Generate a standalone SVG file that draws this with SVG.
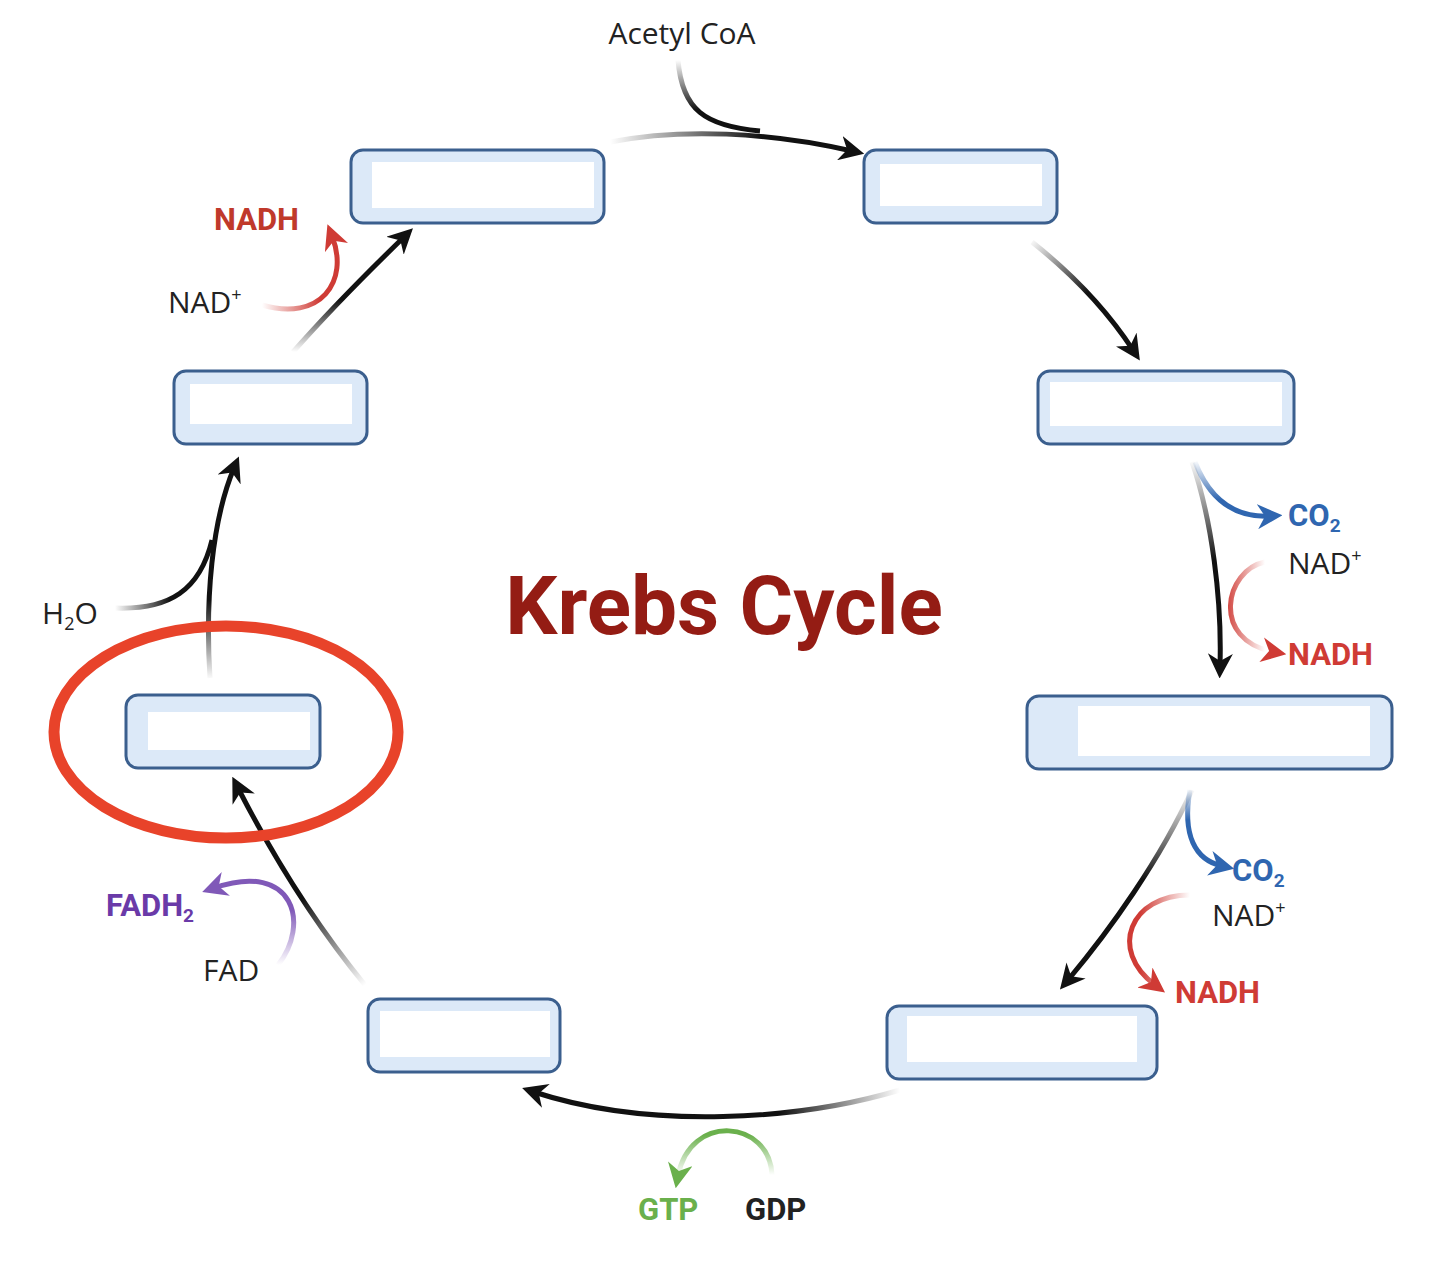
<svg xmlns="http://www.w3.org/2000/svg" width="1446" height="1262" viewBox="0 0 1446 1262">
<style>
.box{fill:#dce9f8;stroke:#3b5f8e;stroke-width:3}
.in{fill:#fff}
.c{fill:none;stroke-width:5}
.t{font-family:"Open Sans","Liberation Sans",sans-serif;font-size:30px;fill:#222}
.b{font-family:"Roboto","Liberation Sans",sans-serif;font-weight:bold;font-size:31px}
</style>
<defs>
<marker id="mk" viewBox="0 0 10 10" refX="5" refY="5" markerWidth="5" markerHeight="5" orient="auto" markerUnits="strokeWidth"><path d="M0,0L10,5L0,10L3,5z" fill="#111"/></marker>
<marker id="mb" viewBox="0 0 10 10" refX="5" refY="5" markerWidth="5" markerHeight="5" orient="auto" markerUnits="strokeWidth"><path d="M0,0L10,5L0,10L3,5z" fill="#2f66b0"/></marker>
<marker id="mr" viewBox="0 0 10 10" refX="5" refY="5" markerWidth="5" markerHeight="5" orient="auto" markerUnits="strokeWidth"><path d="M0,0L10,5L0,10L3,5z" fill="#cf3b35"/></marker>
<marker id="mg" viewBox="0 0 10 10" refX="5" refY="5" markerWidth="5" markerHeight="5" orient="auto" markerUnits="strokeWidth"><path d="M0,0L10,5L0,10L3,5z" fill="#6ab04c"/></marker>
<marker id="mp" viewBox="0 0 10 10" refX="5" refY="5" markerWidth="5" markerHeight="5" orient="auto" markerUnits="strokeWidth"><path d="M0,0L10,5L0,10L3,5z" fill="#8059b8"/></marker>
<linearGradient id="g1" gradientUnits="userSpaceOnUse" x1="610" y1="140" x2="760" y2="135"><stop offset="0" stop-color="#111" stop-opacity="0"/><stop offset="1" stop-color="#111"/></linearGradient>
<linearGradient id="g2" gradientUnits="userSpaceOnUse" x1="1030" y1="240" x2="1090" y2="290"><stop offset="0" stop-color="#111" stop-opacity="0"/><stop offset="1" stop-color="#111"/></linearGradient>
<linearGradient id="g3" gradientUnits="userSpaceOnUse" x1="0" y1="460" x2="0" y2="560"><stop offset="0" stop-color="#111" stop-opacity="0"/><stop offset="1" stop-color="#111"/></linearGradient>
<linearGradient id="g3b" gradientUnits="userSpaceOnUse" x1="0" y1="460" x2="0" y2="500"><stop offset="0" stop-color="#2f66b0" stop-opacity="0"/><stop offset="1" stop-color="#2f66b0"/></linearGradient>
<linearGradient id="g3r" gradientUnits="userSpaceOnUse" x1="1265" y1="0" x2="1225" y2="0"><stop offset="0" stop-color="#cf3b35" stop-opacity="0"/><stop offset="1" stop-color="#cf3b35"/></linearGradient>
<linearGradient id="g4" gradientUnits="userSpaceOnUse" x1="0" y1="788" x2="0" y2="880"><stop offset="0" stop-color="#111" stop-opacity="0"/><stop offset="1" stop-color="#111"/></linearGradient>
<linearGradient id="g4b" gradientUnits="userSpaceOnUse" x1="0" y1="788" x2="0" y2="820"><stop offset="0" stop-color="#2f66b0" stop-opacity="0"/><stop offset="1" stop-color="#2f66b0"/></linearGradient>
<linearGradient id="g4r" gradientUnits="userSpaceOnUse" x1="1190" y1="0" x2="1140" y2="0"><stop offset="0" stop-color="#cf3b35" stop-opacity="0"/><stop offset="1" stop-color="#cf3b35"/></linearGradient>
<linearGradient id="g5" gradientUnits="userSpaceOnUse" x1="900" y1="0" x2="780" y2="0"><stop offset="0" stop-color="#111" stop-opacity="0"/><stop offset="1" stop-color="#111"/></linearGradient>
<linearGradient id="g5g" gradientUnits="userSpaceOnUse" x1="0" y1="1175" x2="0" y2="1135"><stop offset="0" stop-color="#6ab04c" stop-opacity="0"/><stop offset="1" stop-color="#6ab04c"/></linearGradient>
<linearGradient id="g6" gradientUnits="userSpaceOnUse" x1="365" y1="985" x2="300" y2="900"><stop offset="0" stop-color="#111" stop-opacity="0"/><stop offset="1" stop-color="#111"/></linearGradient>
<linearGradient id="g6p" gradientUnits="userSpaceOnUse" x1="0" y1="965" x2="0" y2="910"><stop offset="0" stop-color="#8059b8" stop-opacity="0"/><stop offset="1" stop-color="#8059b8"/></linearGradient>
<linearGradient id="g7" gradientUnits="userSpaceOnUse" x1="0" y1="680" x2="0" y2="600"><stop offset="0" stop-color="#111" stop-opacity="0"/><stop offset="1" stop-color="#111"/></linearGradient>
<linearGradient id="g7h" gradientUnits="userSpaceOnUse" x1="115" y1="0" x2="170" y2="0"><stop offset="0" stop-color="#111" stop-opacity="0"/><stop offset="1" stop-color="#111"/></linearGradient>
<linearGradient id="g8" gradientUnits="userSpaceOnUse" x1="0" y1="352" x2="0" y2="300"><stop offset="0" stop-color="#111" stop-opacity="0"/><stop offset="1" stop-color="#111"/></linearGradient>
<linearGradient id="g8r" gradientUnits="userSpaceOnUse" x1="262" y1="0" x2="320" y2="0"><stop offset="0" stop-color="#cf3b35" stop-opacity="0"/><stop offset="1" stop-color="#cf3b35"/></linearGradient>
<linearGradient id="ga" gradientUnits="userSpaceOnUse" x1="0" y1="60" x2="0" y2="110"><stop offset="0" stop-color="#111" stop-opacity="0"/><stop offset="1" stop-color="#111"/></linearGradient>
</defs>
<rect width="1446" height="1262" fill="#fff"/>
<g id="connectors">
<path class="c" stroke="url(#ga)" d="M678,60 C682,110 705,126 760,131"/>
<path class="c" stroke="url(#g1)" marker-end="url(#mk)" d="M610,142 C680,128 770,132 852,151"/>
<path class="c" stroke="url(#g2)" marker-end="url(#mk)" d="M1032,242 C1080,280 1110,315 1133,350"/>
<path class="c" stroke="url(#g3)" marker-end="url(#mk)" d="M1192,462 C1212,520 1222,600 1220,666"/>
<path class="c" stroke="url(#g3b)" marker-end="url(#mb)" d="M1195,462 C1210,500 1235,518 1270,516"/>
<path class="c" stroke="url(#g3r)" marker-end="url(#mr)" d="M1265,562 C1225,570 1210,640 1274,652"/>
<path class="c" stroke="url(#g4)" marker-end="url(#mk)" d="M1192,790 C1160,860 1110,930 1068,980"/>
<path class="c" stroke="url(#g4b)" marker-end="url(#mb)" d="M1190,790 C1182,835 1195,860 1222,866"/>
<path class="c" stroke="url(#g4r)" marker-end="url(#mr)" d="M1190,895 C1130,895 1108,950 1155,985"/>
<path class="c" stroke="url(#g5)" marker-end="url(#mk)" d="M900,1090 C800,1120 650,1130 534,1092"/>
<path class="c" stroke="url(#g5g)" marker-end="url(#mg)" d="M772,1175 C770,1120 690,1112 678,1176"/>
<path class="c" stroke="url(#g6)" marker-end="url(#mk)" d="M365,985 C320,930 280,870 238,788"/>
<path class="c" stroke="url(#g6p)" marker-end="url(#mp)" d="M278,965 C310,925 295,860 214,888"/>
<path class="c" stroke="url(#g7)" marker-end="url(#mk)" d="M210,678 C205,600 212,520 234,468"/>
<path class="c" stroke="url(#g7h)" d="M115,608 C170,610 200,590 212,540"/>
<path class="c" stroke="url(#g8)" marker-end="url(#mk)" d="M293,352 C330,310 370,270 404,237"/>
<path class="c" stroke="url(#g8r)" marker-end="url(#mr)" d="M262,305 C320,322 350,282 332,236"/>
</g>
<g id="n1"><rect class="box" x="351" y="150" width="253" height="73" rx="12"/><rect class="in" x="372" y="162" width="222" height="46"/></g>
<g id="n2"><rect class="box" x="864" y="150" width="193" height="73" rx="12"/><rect class="in" x="880" y="164" width="162" height="42"/></g>
<g id="n3"><rect class="box" x="1038" y="371" width="256" height="73" rx="12"/><rect class="in" x="1050" y="382" width="232" height="44"/></g>
<g id="n4"><rect class="box" x="1027" y="696" width="365" height="73" rx="12"/><rect class="in" x="1078" y="706" width="292" height="50"/></g>
<g id="n5"><rect class="box" x="887" y="1006" width="270" height="73" rx="12"/><rect class="in" x="907" y="1016" width="230" height="46"/></g>
<g id="n6"><rect class="box" x="368" y="999" width="192" height="73" rx="12"/><rect class="in" x="380" y="1011" width="170" height="46"/></g>
<g id="n7"><rect class="box" x="126" y="695" width="194" height="73" rx="12"/><rect class="in" x="148" y="712" width="162" height="38"/></g>
<g id="n8"><rect class="box" x="174" y="371" width="193" height="73" rx="12"/><rect class="in" x="190" y="384" width="162" height="40"/></g>
<ellipse cx="226" cy="732" rx="172" ry="106" fill="none" stroke="#e8432a" stroke-width="11"/>
<g id="labels">
<text class="t" x="682" y="44" text-anchor="middle">Acetyl CoA</text>
<text x="724" y="634" text-anchor="middle" font-family="Roboto,'Liberation Sans',sans-serif" font-weight="bold" font-size="82" fill="#941c14">Krebs Cycle</text>
<text class="b" x="214" y="230" fill="#c0392b">NADH</text>
<text class="t" x="168" y="313">NAD<tspan font-size="18" dy="-12">+</tspan></text>
<text class="t" x="42" y="624">H<tspan font-size="18" dy="6">2</tspan><tspan dy="-6">O</tspan></text>
<text class="b" x="1288" y="526" fill="#2f66b0">CO<tspan font-size="19" dy="6">2</tspan></text>
<text class="t" x="1288" y="574">NAD<tspan font-size="18" dy="-12">+</tspan></text>
<text class="b" x="1288" y="665" fill="#cf3b35">NADH</text>
<text class="b" x="1232" y="881" fill="#2f66b0">CO<tspan font-size="19" dy="6">2</tspan></text>
<text class="t" x="1212" y="926">NAD<tspan font-size="18" dy="-12">+</tspan></text>
<text class="b" x="1175" y="1003" fill="#cf3b35">NADH</text>
<text class="b" x="638" y="1220" fill="#6ab04c">GTP</text>
<text class="b" x="745" y="1220" fill="#222">GDP</text>
<text class="b" x="106" y="916" fill="#6a3aa8">FADH<tspan font-size="19" dy="6">2</tspan></text>
<text class="t" x="203" y="981">FAD</text>
</g>
</svg>
